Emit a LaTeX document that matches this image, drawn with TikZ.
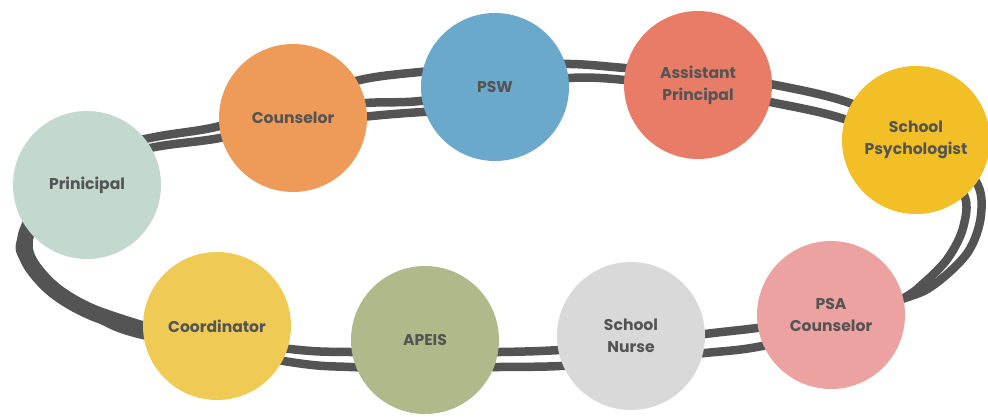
\documentclass[tikz,border=0pt]{standalone}
\usepackage{fontspec}
\setmainfont{Poppins}
\definecolor{cPrin}{HTML}{C3D9CD}
\definecolor{cCoun}{HTML}{EE9A59}
\definecolor{cPsw}{HTML}{6AA8CC}
\definecolor{cAp}{HTML}{E97C67}
\definecolor{cPsy}{HTML}{F3BF26}
\definecolor{cPsa}{HTML}{EBA2A0}
\definecolor{cNurse}{HTML}{D9D9D9}
\definecolor{cApeis}{HTML}{AFB98A}
\definecolor{cCoord}{HTML}{EFCA55}
\definecolor{ink}{HTML}{545454}
\tikzset{
  blob/.style={circle, minimum size=148pt, inner sep=0pt, align=center,
    text=ink, font=\fontsize{15.6}{22}\selectfont\bfseries},
  strand/.style={draw=ink, line width=8.5pt, line cap=round, line join=round},
  band/.style={draw=ink, line width=16pt, line cap=round, line join=round},
}
\begin{document}
\begin{tikzpicture}[x=1pt,y=-1pt]
\useasboundingbox (0,0) rectangle (988,417);
% track strands
\draw[strand] plot[smooth cycle, tension=0.55] coordinates {
  (60,160) (150,138) (220,126) (300,100) (360,80) (420,72)
  (500,66) (570,64) (625,68) (700,74) (770,84) (850,103) (930,140)
  (975,180) (981,215) (968,252) (935,284) (905,298) (830,318)
  (757,328) (705,334) (630,344) (560,350) (500,352) (425,352)
  (350,352) (290,349) (143,329) (94,310) (56,287) (32,259) (29,234)};
\draw[strand] plot[smooth cycle, tension=0.55] coordinates {
  (70,170) (150,148) (220,138) (300,120) (357,104) (420,101)
  (500,88) (570,78) (625,80) (700,90) (770,102) (850,121) (930,160)
  (964,195) (963,228) (948,258) (925,282) (900,300) (830,330)
  (757,347) (705,353) (630,360) (560,366) (500,367) (425,368)
  (350,367) (290,362) (143,335) (94,316) (52,293) (26,262) (23,236)};
\coordinate (t1) at (330,121);
\coordinate (t2) at (460,110);
\draw[strand] (t1) .. controls (380,114) and (420,112) .. (t2);
\coordinate (b1) at (45,195);
\coordinate (b2) at (165,336);
\draw[band] plot[smooth, tension=0.55] coordinates {
  (b1) (26,235) (29,261) (54,290) (94,313) (b2)};
% circles
\node[blob, fill=cPrin]   (prin)  at (87,185)  {Prinicipal};
\node[blob, fill=cCoun]   (coun)  at (293,118) {Counselor};
\node[blob, fill=cPsw]    (psw)   at (495,87)  {PSW};
\node[blob, fill=cAp]     (ap)    at (698,85)  {Assistant\\Principal};
\node[blob, fill=cPsy]    (psy)   at (916,140) {School\\Psychologist};
\node[blob, fill=cPsa]    (psa)   at (831,315) {PSA\\Counselor};
\node[blob, fill=cNurse]  (nurse) at (631,336) {School\\Nurse};
\node[blob, fill=cApeis]  (apeis) at (425,340) {APEIS};
\node[blob, fill=cCoord]  (coord) at (217,326) {Coordinator};
\end{tikzpicture}
\end{document}
